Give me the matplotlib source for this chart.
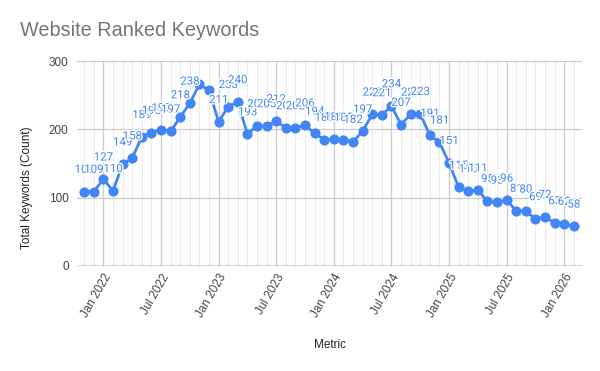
import matplotlib
matplotlib.use("Agg")
import matplotlib.pyplot as plt
import matplotlib.patheffects as pe
import numpy as np

months = ["Nov 2021", "Dec 2021",
          "Jan 2022", "Feb 2022", "Mar 2022", "Apr 2022", "May 2022", "Jun 2022",
          "Jul 2022", "Aug 2022", "Sep 2022", "Oct 2022", "Nov 2022", "Dec 2022",
          "Jan 2023", "Feb 2023", "Mar 2023", "Apr 2023", "May 2023", "Jun 2023",
          "Jul 2023", "Aug 2023", "Sep 2023", "Oct 2023", "Nov 2023", "Dec 2023",
          "Jan 2024", "Feb 2024", "Mar 2024", "Apr 2024", "May 2024", "Jun 2024",
          "Jul 2024", "Aug 2024", "Sep 2024", "Oct 2024", "Nov 2024", "Dec 2024",
          "Jan 2025", "Feb 2025", "Mar 2025", "Apr 2025", "May 2025", "Jun 2025",
          "Jul 2025", "Aug 2025", "Sep 2025", "Oct 2025", "Nov 2025", "Dec 2025",
          "Jan 2026", "Feb 2026"]
keywords = [109, 109,
            127, 110, 149, 158, 189, 195,
            199, 197, 218, 238, 266, 257,
            211, 233, 240, 193, 205, 205,
            212, 202, 202, 206, 194, 185,
            186, 185, 182, 197, 222, 221,
            234, 207, 222, 223, 191, 181,
            151, 115, 110, 111, 95, 93,
            96, 81, 80, 69, 72, 63,
            62, 58]
hidden_labels = ["Nov 2022", "Dec 2022"]
tick_labels = ["Jan 2022", "Jul 2022", "Jan 2023", "Jul 2023", "Jan 2024",
               "Jul 2024", "Jan 2025", "Jul 2025", "Jan 2026"]
y_ticks = [0, 100, 200, 300]

BLUE = "#4285F4"
fig = plt.figure(figsize=(6.0, 3.71), dpi=100)
ax = fig.add_axes([77 / 600, 1 - 266 / 371, (582 - 77) / 600, (266 - 61) / 371])

x = np.arange(len(months))
for xi in x:
    ax.axvline(xi, color="#ebebeb", lw=0.8, zorder=0)
tick_pos = [months.index(t) for t in tick_labels]
for xi in tick_pos:
    ax.axvline(xi, color="#cccccc", lw=0.9, zorder=0.5)
for yv in y_ticks[1:]:
    ax.axhline(yv, color="#cccccc", lw=0.9, zorder=0.5)
ax.axhline(0, color="#333333", lw=1.0, zorder=1)

ax.plot(x, keywords, color=BLUE, lw=2, marker="o", ms=6.3, zorder=3,
        clip_on=False)

for xi, m, v in zip(x, months, keywords):
    if m in hidden_labels:
        continue
    ax.annotate(str(v), (xi, v), xytext=(0, 16), textcoords="offset points",
                ha="center", va="center", color=BLUE, fontsize=8.3,
                family="Roboto", zorder=4,
                path_effects=[pe.withStroke(linewidth=2, foreground="white")])

ax.set_xlim(-0.75, len(months) - 1 + 0.85)
ax.set_ylim(0, 300)
ax.set_xticks(tick_pos)
ax.set_xticklabels(tick_labels, rotation=60, ha="right", rotation_mode="anchor",
                   family="Liberation Sans", fontsize=8.5, color="#444444")
ax.set_yticks(y_ticks)
ax.set_yticklabels([str(v) for v in y_ticks], family="Liberation Sans",
                   fontsize=8.5, color="#444444")
ax.tick_params(axis="both", length=0)
ax.tick_params(axis="y", pad=6)
ax.tick_params(axis="x", pad=4)
for s in ax.spines.values():
    s.set_visible(False)

fig.text(20 / 600, 1 - 30 / 371, "Website Ranked Keywords", ha="left", va="center",
         family="Liberation Sans", fontsize=14.3, color="#757575")
fig.text(27 / 600, 1 - 188 / 371, "Total Keywords (Count)", rotation=90,
         ha="center", va="center", family="Liberation Sans", fontsize=8.5,
         color="#222222")
fig.text(330 / 600, 1 - 345 / 371, "Metric", ha="center", va="center",
         family="Liberation Sans", fontsize=8.5, color="#222222")

fig.savefig("out.png", dpi=100)
